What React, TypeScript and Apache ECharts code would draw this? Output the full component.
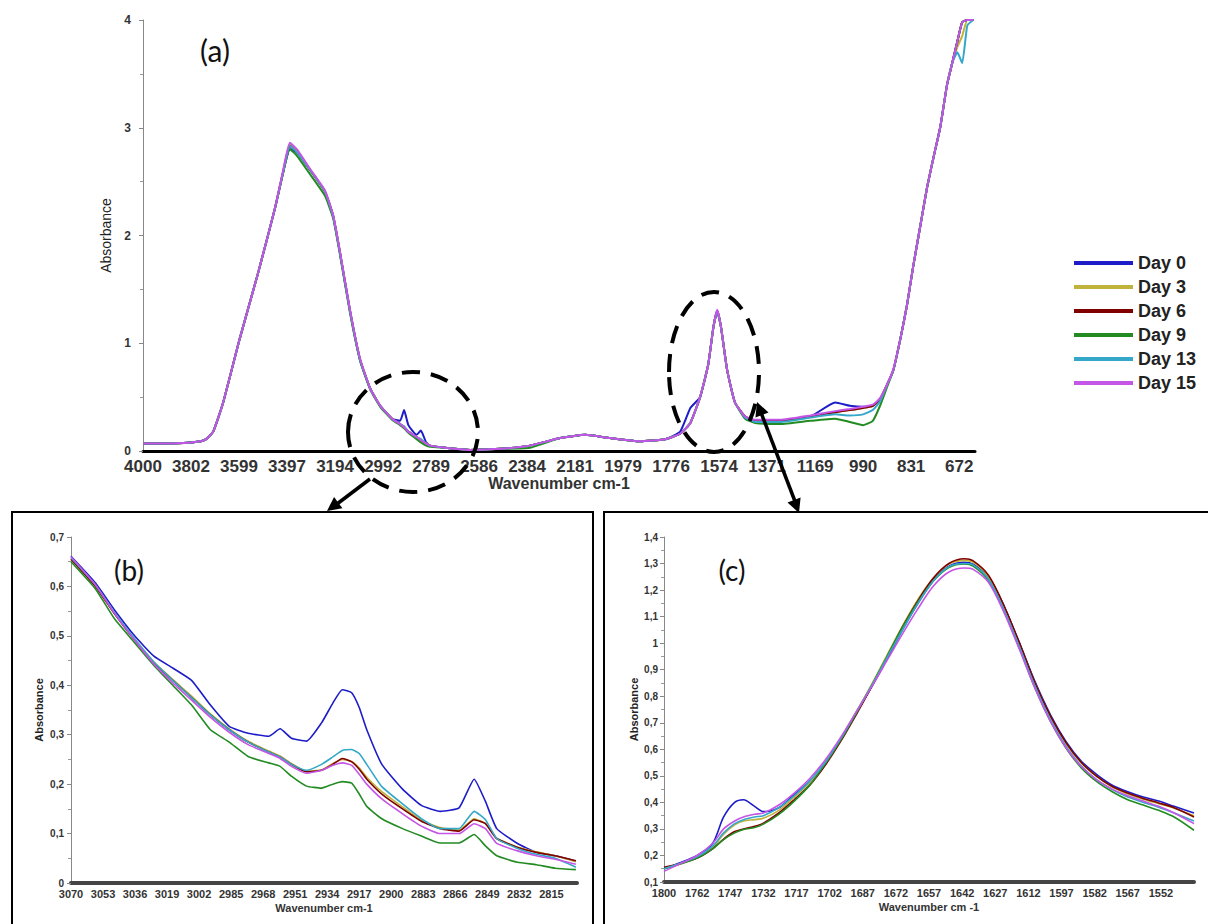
import React, { useEffect, useRef } from "react";
import * as echarts from "echarts";

// ---------- tick labels (axis positions are evenly spaced in the source software) ----------
const TICKS_A = [4000, 3802, 3599, 3397, 3194, 2992, 2789, 2586, 2384, 2181, 1979, 1776, 1574, 1371, 1169, 990, 831, 672];
const TICKS_B = [3070, 3053, 3036, 3019, 3002, 2985, 2968, 2951, 2934, 2917, 2900, 2883, 2866, 2849, 2832, 2815];
const TICKS_C = [1800, 1762, 1747, 1732, 1717, 1702, 1687, 1672, 1657, 1642, 1627, 1612, 1597, 1582, 1567, 1552];

const DAYS = ["Day 0", "Day 3", "Day 6", "Day 9", "Day 13", "Day 15"];
const COLORS = ["#1c1cc8", "#c0b23a", "#800000", "#228b22", "#35a7c9", "#c455e6"];

// ---------- panel (a): full spectrum ----------
const wnA = [4000, 3900, 3800, 3760, 3738, 3708, 3666, 3595, 3519, 3448, 3414, 3385, 3355, 3300, 3237, 3202, 3174, 3131, 3089, 3046, 3004, 2954, 2920, 2903, 2885, 2850, 2832, 2810, 2793, 2730, 2624, 2497, 2372, 2244, 2138, 2034, 1908, 1800, 1738, 1695, 1654, 1620, 1598, 1582, 1566, 1540, 1507, 1464, 1422, 1316, 1189, 1094, 1040, 990, 958, 934, 910, 890, 866, 845, 825, 800, 778, 755, 735, 712, 695, 678, 662, 645, 625];
const day0A = [0.07, 0.07, 0.08, 0.09, 0.11, 0.18, 0.45, 1.05, 1.65, 2.25, 2.58, 2.80, 2.77, 2.61, 2.41, 2.18, 1.85, 1.30, 0.85, 0.58, 0.42, 0.30, 0.28, 0.38, 0.24, 0.15, 0.19, 0.08, 0.05, 0.03, 0.01, 0.02, 0.05, 0.12, 0.15, 0.12, 0.09, 0.11, 0.18, 0.40, 0.50, 0.80, 1.15, 1.30, 1.15, 0.75, 0.45, 0.32, 0.28, 0.28, 0.32, 0.45, 0.42, 0.41, 0.42, 0.48, 0.62, 0.75, 1.05, 1.35, 1.70, 2.10, 2.45, 2.75, 3.00, 3.40, 3.60, 3.80, 3.98, 4.00, 4.00];
const day3A = [0.07, 0.07, 0.08, 0.09, 0.11, 0.18, 0.45, 1.05, 1.65, 2.25, 2.58, 2.85, 2.77, 2.61, 2.41, 2.18, 1.85, 1.30, 0.85, 0.58, 0.42, 0.30, 0.25, 0.22, 0.18, 0.13, 0.10, 0.07, 0.05, 0.03, 0.01, 0.02, 0.05, 0.12, 0.15, 0.12, 0.09, 0.11, 0.16, 0.26, 0.50, 0.80, 1.15, 1.30, 1.15, 0.75, 0.45, 0.32, 0.28, 0.28, 0.32, 0.36, 0.38, 0.40, 0.42, 0.48, 0.62, 0.75, 1.05, 1.35, 1.70, 2.10, 2.45, 2.75, 3.00, 3.40, 3.60, 3.75, 3.85, 4.00, 4.00];
const day6A = [0.07, 0.07, 0.08, 0.09, 0.11, 0.18, 0.45, 1.05, 1.65, 2.25, 2.58, 2.83, 2.77, 2.61, 2.41, 2.18, 1.85, 1.30, 0.85, 0.58, 0.42, 0.30, 0.25, 0.22, 0.18, 0.13, 0.10, 0.07, 0.05, 0.03, 0.01, 0.02, 0.05, 0.12, 0.15, 0.12, 0.09, 0.11, 0.16, 0.26, 0.50, 0.80, 1.15, 1.30, 1.15, 0.75, 0.45, 0.32, 0.28, 0.28, 0.32, 0.36, 0.38, 0.40, 0.42, 0.48, 0.62, 0.75, 1.05, 1.35, 1.70, 2.10, 2.45, 2.75, 3.00, 3.40, 3.60, 3.80, 3.98, 4.00, 4.00];
const day9A = [0.07, 0.07, 0.08, 0.09, 0.11, 0.18, 0.45, 1.05, 1.65, 2.25, 2.58, 2.80, 2.74, 2.57, 2.37, 2.16, 1.83, 1.28, 0.84, 0.57, 0.41, 0.29, 0.24, 0.21, 0.17, 0.11, 0.08, 0.05, 0.04, 0.03, 0.01, 0.02, 0.03, 0.12, 0.15, 0.12, 0.09, 0.11, 0.16, 0.26, 0.50, 0.80, 1.15, 1.30, 1.15, 0.75, 0.45, 0.30, 0.26, 0.25, 0.28, 0.30, 0.27, 0.24, 0.28, 0.42, 0.60, 0.75, 1.05, 1.35, 1.70, 2.10, 2.45, 2.75, 3.00, 3.40, 3.60, 3.80, 3.98, 4.00, 4.00];
const day13A = [0.07, 0.07, 0.08, 0.09, 0.11, 0.18, 0.45, 1.05, 1.65, 2.25, 2.58, 2.83, 2.77, 2.61, 2.41, 2.18, 1.85, 1.30, 0.85, 0.58, 0.42, 0.30, 0.25, 0.23, 0.18, 0.13, 0.11, 0.07, 0.05, 0.03, 0.01, 0.02, 0.05, 0.12, 0.15, 0.12, 0.09, 0.11, 0.16, 0.26, 0.50, 0.80, 1.15, 1.30, 1.15, 0.75, 0.45, 0.31, 0.27, 0.27, 0.31, 0.34, 0.33, 0.34, 0.38, 0.46, 0.62, 0.75, 1.05, 1.35, 1.70, 2.10, 2.45, 2.75, 3.00, 3.40, 3.60, 3.70, 3.60, 3.95, 4.00];
const day15A = [0.07, 0.07, 0.08, 0.09, 0.11, 0.18, 0.45, 1.05, 1.65, 2.25, 2.60, 2.86, 2.80, 2.62, 2.42, 2.19, 1.86, 1.31, 0.86, 0.58, 0.42, 0.30, 0.25, 0.22, 0.18, 0.13, 0.10, 0.07, 0.05, 0.03, 0.01, 0.02, 0.05, 0.12, 0.15, 0.12, 0.09, 0.11, 0.16, 0.26, 0.50, 0.80, 1.15, 1.31, 1.15, 0.75, 0.45, 0.32, 0.29, 0.29, 0.33, 0.37, 0.39, 0.41, 0.43, 0.49, 0.62, 0.76, 1.05, 1.35, 1.70, 2.10, 2.45, 2.75, 3.00, 3.40, 3.60, 3.80, 3.98, 4.00, 4.00];

// ---------- panel (b): 3070-2800 cm-1 ----------
const wnB = [3070, 3057, 3047, 3036, 3026, 3016, 3006, 2996, 2986, 2976, 2965, 2959, 2953, 2945, 2937, 2931, 2926, 2921, 2917, 2913, 2905, 2894, 2884, 2874, 2864, 2856, 2850, 2844, 2833, 2823, 2813, 2802];
const day0B = [0.661, 0.607, 0.553, 0.499, 0.459, 0.435, 0.41, 0.36, 0.317, 0.303, 0.297, 0.312, 0.293, 0.287, 0.324, 0.364, 0.391, 0.385, 0.355, 0.31, 0.24, 0.19, 0.157, 0.145, 0.152, 0.21, 0.165, 0.11, 0.08, 0.062, 0.055, 0.044];
const day3B = [0.655, 0.6, 0.546, 0.492, 0.447, 0.412, 0.378, 0.342, 0.312, 0.287, 0.267, 0.257, 0.242, 0.226, 0.229, 0.242, 0.25, 0.246, 0.233, 0.214, 0.185, 0.154, 0.127, 0.112, 0.107, 0.13, 0.12, 0.09, 0.073, 0.063, 0.055, 0.043];
const day6B = [0.655, 0.6, 0.545, 0.49, 0.445, 0.41, 0.375, 0.34, 0.31, 0.285, 0.265, 0.255, 0.24, 0.225, 0.228, 0.24, 0.252, 0.245, 0.23, 0.21, 0.18, 0.15, 0.125, 0.11, 0.105, 0.128, 0.12, 0.09, 0.072, 0.062, 0.055, 0.045];
const day9B = [0.65, 0.595, 0.535, 0.485, 0.44, 0.4, 0.36, 0.31, 0.285, 0.256, 0.243, 0.236, 0.216, 0.196, 0.192, 0.2, 0.205, 0.202, 0.18, 0.155, 0.13, 0.11, 0.095, 0.081, 0.081, 0.098, 0.075, 0.055, 0.042, 0.037, 0.03, 0.027];
const day13B = [0.658, 0.603, 0.548, 0.493, 0.447, 0.41, 0.375, 0.34, 0.31, 0.285, 0.265, 0.255, 0.24, 0.228, 0.24, 0.255, 0.268, 0.27, 0.262, 0.24, 0.195, 0.16, 0.13, 0.11, 0.11, 0.145, 0.128, 0.09, 0.07, 0.058, 0.05, 0.032];
const day15B = [0.66, 0.603, 0.546, 0.49, 0.443, 0.405, 0.37, 0.335, 0.305, 0.28, 0.262, 0.252, 0.236, 0.222, 0.228, 0.238, 0.243, 0.238, 0.22, 0.2, 0.17, 0.14, 0.115, 0.1, 0.1, 0.12, 0.11, 0.08, 0.065, 0.055, 0.048, 0.038];

// ---------- panel (c): 1800-1537 cm-1 ----------
const wnC = [1800, 1784, 1762, 1755, 1750, 1745, 1741, 1736, 1732, 1725, 1718, 1711, 1704, 1697, 1690, 1683, 1676, 1669, 1662, 1655, 1648, 1641, 1637, 1630, 1623, 1616, 1609, 1602, 1595, 1588, 1581, 1574, 1567, 1560, 1553, 1546, 1537];
const day0C = [0.15, 0.17, 0.2, 0.245, 0.345, 0.4, 0.41, 0.385, 0.365, 0.38, 0.43, 0.48, 0.55, 0.635, 0.735, 0.835, 0.94, 1.05, 1.15, 1.235, 1.29, 1.305, 1.298, 1.25, 1.14, 1.0, 0.855, 0.73, 0.63, 0.555, 0.505, 0.465, 0.44, 0.42, 0.405, 0.385, 0.36];
const day3C = [0.15, 0.165, 0.19, 0.23, 0.28, 0.315, 0.33, 0.335, 0.34, 0.37, 0.42, 0.475, 0.55, 0.64, 0.74, 0.845, 0.955, 1.065, 1.165, 1.245, 1.298, 1.312, 1.305, 1.25, 1.135, 0.995, 0.848, 0.722, 0.622, 0.548, 0.497, 0.458, 0.432, 0.412, 0.395, 0.378, 0.35];
const day6C = [0.155, 0.168, 0.19, 0.225, 0.262, 0.29, 0.3, 0.31, 0.322, 0.36, 0.41, 0.465, 0.54, 0.63, 0.73, 0.835, 0.945, 1.06, 1.16, 1.245, 1.3, 1.318, 1.31, 1.255, 1.14, 1.0, 0.85, 0.725, 0.625, 0.55, 0.498, 0.46, 0.435, 0.415, 0.398, 0.38, 0.345];
const day9C = [0.15, 0.165, 0.19, 0.225, 0.26, 0.285, 0.298, 0.305, 0.318, 0.355, 0.405, 0.465, 0.545, 0.635, 0.735, 0.84, 0.95, 1.06, 1.155, 1.235, 1.285, 1.298, 1.29, 1.235, 1.12, 0.98, 0.83, 0.705, 0.605, 0.53, 0.478, 0.44, 0.41, 0.39, 0.37, 0.345, 0.295];
const day13C = [0.15, 0.168, 0.195, 0.235, 0.285, 0.32, 0.335, 0.345, 0.35, 0.38, 0.425, 0.48, 0.55, 0.64, 0.74, 0.84, 0.945, 1.05, 1.15, 1.235, 1.288, 1.3, 1.295, 1.24, 1.125, 0.985, 0.838, 0.712, 0.612, 0.537, 0.485, 0.448, 0.42, 0.4, 0.382, 0.36, 0.33];
const day15C = [0.14, 0.165, 0.2, 0.245, 0.3, 0.33, 0.345, 0.355, 0.36, 0.39, 0.435, 0.49, 0.56, 0.645, 0.74, 0.835, 0.935, 1.035, 1.13, 1.215, 1.268, 1.283, 1.278, 1.228, 1.115, 0.975, 0.83, 0.705, 0.607, 0.535, 0.485, 0.45, 0.425, 0.405, 0.385, 0.36, 0.32];

const VALUES_A = [day0A, day3A, day6A, day9A, day13A, day15A];
const VALUES_B = [day0B, day3B, day6B, day9B, day13B, day15B];
const VALUES_C = [day0C, day3C, day6C, day9C, day13C, day15C];

const FONT = "'Liberation Sans', Arial, sans-serif";

// position of a wavenumber along the evenly spaced tick labels
function toPos(wn: number, ticks: number[]): number {
  const n = ticks.length;
  if (wn > ticks[0]) return (ticks[0] - wn) / (ticks[0] - ticks[1]);
  for (let i = 0; i < n - 1; i++) {
    if (wn >= ticks[i + 1]) return i + (ticks[i] - wn) / (ticks[i] - ticks[i + 1]);
  }
  return n - 1 + (ticks[n - 1] - wn) / (ticks[n - 2] - ticks[n - 1]);
}

function arrowHead(x1: number, y1: number, x2: number, y2: number, len = 14, half = 7) {
  const dx = x2 - x1, dy = y2 - y1;
  const L = Math.sqrt(dx * dx + dy * dy);
  const ux = dx / L, uy = dy / L;
  const bx = x2 - ux * len, by = y2 - uy * len;
  return {
    type: "polygon",
    z: 100,
    shape: { points: [[x2, y2], [bx - uy * half, by + ux * half], [bx + uy * half, by - ux * half]] },
    style: { fill: "#000" },
  };
}

export default function App() {
  const ref = useRef<HTMLDivElement>(null);
  useEffect(() => {
    if (!ref.current) return;
    const chart = echarts.init(ref.current, null, { renderer: "svg" });
    const comma = (v: number) => String(Math.round(v * 10) / 10).replace(".", ",");

    const xAxisBase = (grid: number, ticks: number[], max: number, name: string, lineColor: string, fs: number, nameGap: number, margin: number) => ({
      type: "value",
      gridIndex: grid,
      min: 0,
      max,
      interval: 1,
      name,
      nameLocation: "middle",
      nameGap,
      nameTextStyle: { fontFamily: FONT, fontWeight: "bold", fontSize: grid === 0 ? 16 : 11, color: "#333" },
      axisLine: { show: true, onZero: false, lineStyle: { color: lineColor, width: grid === 0 ? 3 : 4 } },
      axisTick: { show: false },
      splitLine: { show: false },
      axisLabel: {
        fontFamily: FONT,
        fontWeight: "bold",
        fontSize: fs,
        color: "#333",
        margin,
        showMaxLabel: false,
        formatter: (v: number) => (Math.abs(v - Math.round(v)) < 1e-6 && ticks[Math.round(v)] !== undefined ? String(ticks[Math.round(v)]) : ""),
      },
    });

    const yAxisBase = (grid: number, min: number, max: number, fmt: (v: number) => string, fs: number, nameGap: number, margin: number) => ({
      type: "value",
      gridIndex: grid,
      min,
      max,
      interval: grid === 0 ? 1 : 0.1,
      name: "Absorbance",
      nameLocation: "middle",
      nameGap,
      nameTextStyle: { fontFamily: FONT, fontWeight: grid === 0 ? "normal" : "bold", fontSize: grid === 0 ? 14 : 11, color: "#222" },
      axisLine: { show: true, lineStyle: { color: "#888", width: 1 } },
      axisTick: { show: true, length: 4, lineStyle: { color: "#888" } },
      minorTick: { show: true, splitNumber: 2, length: 3, lineStyle: { color: "#999" } },
      splitLine: { show: false },
      axisLabel: { fontFamily: FONT, fontWeight: "bold", fontSize: fs, color: "#333", margin, formatter: fmt },
    });

    const series: any[] = [];
    DAYS.forEach((d, k) => {
      series.push({
        name: d, type: "line", xAxisIndex: 0, yAxisIndex: 0, showSymbol: false, symbol: "none",
        smooth: 0.15, clip: true, color: COLORS[k],
        lineStyle: { width: 2, color: COLORS[k] },
        data: wnA.map((w, i) => [toPos(w, TICKS_A), VALUES_A[k][i]]),
      });
      series.push({
        name: d, type: "line", xAxisIndex: 1, yAxisIndex: 1, showSymbol: false, symbol: "none",
        smooth: 0.15, clip: true, color: COLORS[k],
        lineStyle: { width: 1.6, color: COLORS[k] },
        data: wnB.map((w, i) => [toPos(w, TICKS_B), VALUES_B[k][i]]),
      });
      series.push({
        name: d, type: "line", xAxisIndex: 2, yAxisIndex: 2, showSymbol: false, symbol: "none",
        smooth: 0.3, clip: true, color: COLORS[k],
        lineStyle: { width: 1.6, color: COLORS[k] },
        data: wnC.map((w, i) => [toPos(w, TICKS_C), VALUES_C[k][i]]),
      });
    });

    const dashed = { fill: "none", stroke: "#000", lineWidth: 4, lineDash: [18, 11] };

    chart.setOption({
      animation: false,
      backgroundColor: "#fff",
      grid: [
        { left: 143, top: 20, width: 832, height: 431 },
        { left: 71, top: 537, width: 506, height: 346 },
        { left: 664, top: 537, width: 530, height: 345 },
      ],
      xAxis: [
        xAxisBase(0, TICKS_A, 17.33, "Wavenumber cm-1", "#000", 17, 23, 7),
        xAxisBase(1, TICKS_B, 15.8, "Wavenumber cm-1", "#444", 11, 19, 5),
        xAxisBase(2, TICKS_C, 16, "Wavenumber cm -1", "#444", 11, 19, 5),
      ],
      yAxis: [
        yAxisBase(0, 0, 4, (v: number) => String(v), 12, 28, 12),
        yAxisBase(1, 0, 0.7, comma, 10, 27, 7),
        yAxisBase(2, 0.1, 1.4, comma, 10, 25, 6),
      ],
      legend: {
        orient: "vertical",
        left: 1074,
        top: 254,
        padding: 0,
        icon: "rect",
        itemWidth: 59,
        itemHeight: 4,
        itemGap: 6,
        data: DAYS,
        textStyle: { fontFamily: FONT, fontSize: 18, fontWeight: "bold", color: "#222", lineHeight: 18 },
      },
      graphic: [
        { type: "rect", z: 50, shape: { x: 12, y: 512, width: 581, height: 430 }, style: { fill: "none", stroke: "#000", lineWidth: 2 } },
        { type: "rect", z: 50, shape: { x: 604, y: 512, width: 620, height: 430 }, style: { fill: "none", stroke: "#000", lineWidth: 2 } },
        { type: "ellipse", z: 100, shape: { cx: 413, cy: 432, rx: 65, ry: 60 }, style: dashed },
        { type: "ellipse", z: 100, shape: { cx: 714, cy: 372, rx: 45, ry: 80 }, style: dashed },
        { type: "line", z: 100, shape: { x1: 370, y1: 479, x2: 333, y2: 507 }, style: { stroke: "#000", lineWidth: 3.5 } },
        arrowHead(370, 479, 327, 511),
        { type: "line", z: 100, shape: { x1: 760, y1: 410, x2: 796, y2: 504 }, style: { stroke: "#000", lineWidth: 3.5 } },
        arrowHead(796, 504, 757, 402),
        arrowHead(760, 410, 799, 513),
        { type: "text", z: 100, style: { text: "(a)", x: 215, y: 50, align: "center", verticalAlign: "middle", fontFamily: "Lato, 'Open Sans', sans-serif", fontSize: 30, fill: "#111" } },
        { type: "text", z: 100, style: { text: "(b)", x: 129, y: 570, align: "center", verticalAlign: "middle", fontFamily: "Lato, 'Open Sans', sans-serif", fontSize: 28, fill: "#111" } },
        { type: "text", z: 100, style: { text: "(c)", x: 732, y: 570, align: "center", verticalAlign: "middle", fontFamily: "Lato, 'Open Sans', sans-serif", fontSize: 28, fill: "#111" } },
      ],
      series,
    });
    return () => chart.dispose();
  }, []);
  return <div ref={ref} style={{ position: "absolute", left: 0, top: 0, width: 1208, height: 924, background: "#fff" }} />;
}
